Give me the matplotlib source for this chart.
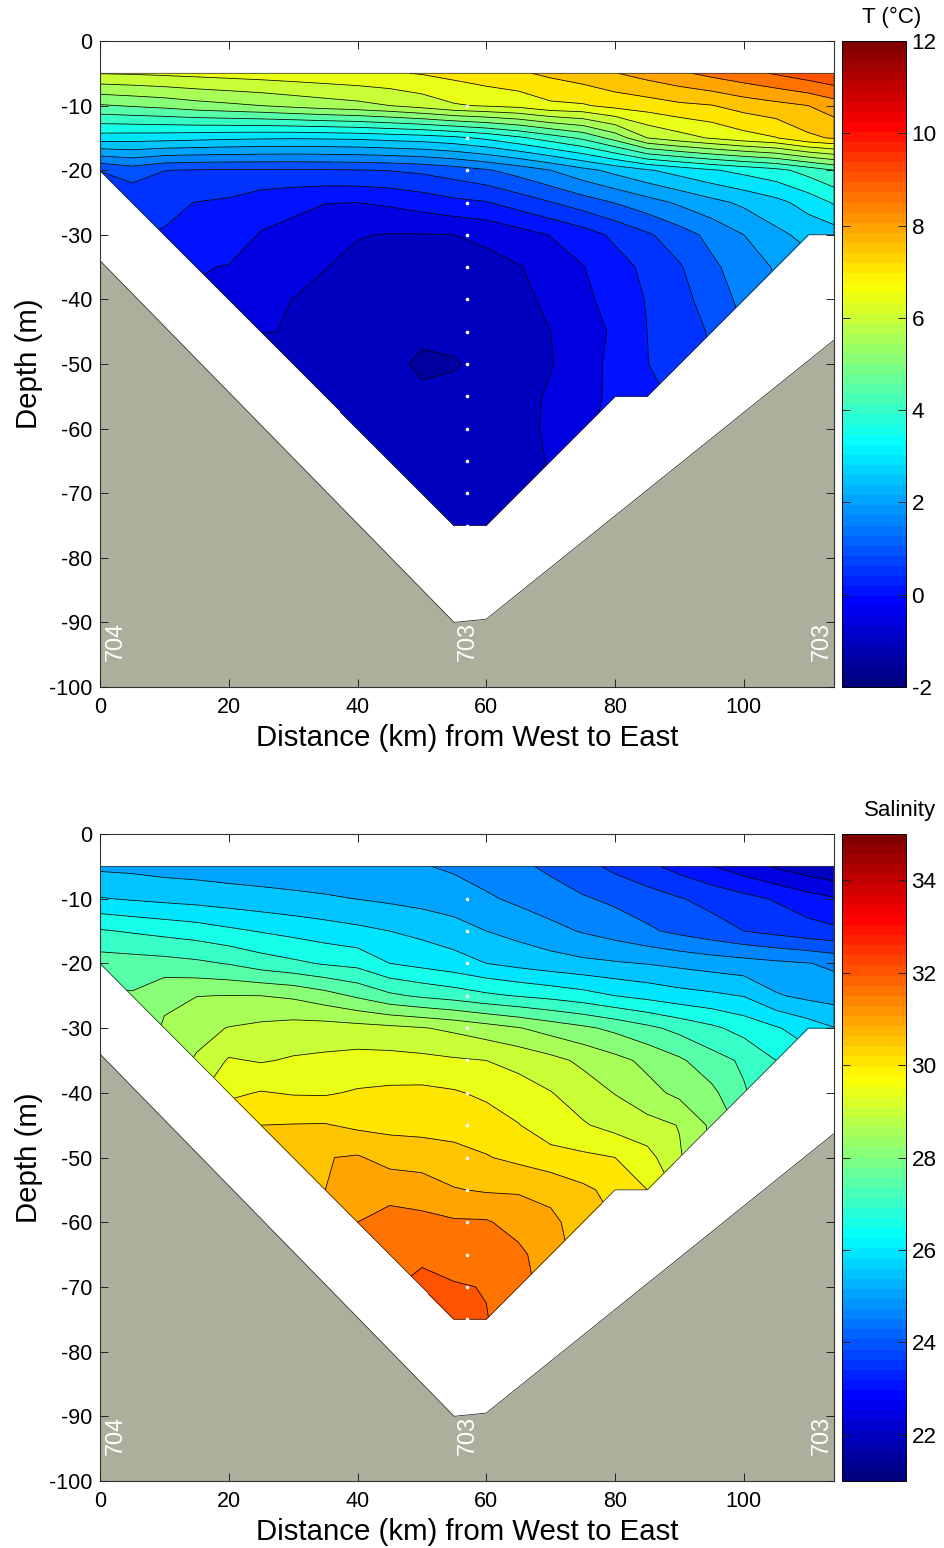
import numpy as np
import matplotlib
matplotlib.use('Agg')
import matplotlib.pyplot as plt
from matplotlib.cm import ScalarMappable
from matplotlib.colors import LinearSegmentedColormap, Normalize

plt.rcParams['font.family'] = ['Liberation Sans', 'DejaVu Sans']
plt.rcParams['axes.unicode_minus'] = False

n = np.nan

# grid of the section
dist = [0, 5, 10, 15, 20, 25, 30, 35, 40, 45, 50, 55, 60, 65, 70, 75, 80, 85, 90, 95, 100, 105, 110, 114]
depth = [-5, -10, -15, -20, -25, -30, -35, -40, -45, -50, -55, -60, -65, -70, -75]

# deepest grid depth in each column
last_depth = [-20, -25, -30, -35, -40, -45, -50, -55, -60, -65, -70, -75, -75,
              -70, -65, -60, -55, -55, -50, -45, -40, -35, -30, -30]

# temperature, one row per depth
T05 = [6.52, 6.55, 6.6, 6.65, 6.7, 6.75, 6.8, 6.85, 6.9, 6.95, 7.03, 7.15, 7.3, 7.43, 7.6, 7.78, 7.98, 8.2, 8.41, 8.64, 8.84, 9.05, 9.28, 9.45]
T10 = [4.95, 5.05, 5.15, 5.3, 5.4, 5.5, 5.63, 5.75, 5.85, 6.0, 6.2, 6.45, 6.55, 6.65, 6.9, 6.95, 7.15, 7.25, 7.4, 7.48, 7.7, 7.85, 8.0, 8.25]
T15 = [3.25, 3.22, 3.2, 3.15, 3.1, 3.07, 3.05, 3.07, 3.1, 3.18, 3.25, 3.38, 3.6, 3.9, 4.25, 4.6, 5.2, 6.0, 6.3, 6.55, 6.8, 6.98, 7.4, 7.55]
T20 = [1.02, 1.25, 1.01, .97, .95, .95, .95, .96, .98, 1.02, 1.1, 1.25, 1.45, 1.7, 2.0, 2.35, 2.65, 2.95, 3.2, 3.45, 3.65, 3.85, 4.2, 4.5]
T25 = [n, .62, .58, .49, .42, .21, .1, .01, 0, .08, .22, .38, .47, .72, .98, 1.25, 1.52, 1.8, 2.08, 2.35, 2.6, 2.85, 3.2, 3.55]
T30 = [n, n, .475, .28, .22, -.03, -.12, -.25, -.48, -.52, -.52, -.5, -.4, -.2, .02, .27, .6, .93, 1.28, 1.64, 2.0, 2.38, 2.65, 2.75]
T35 = [n, n, n, .03, -.02, -.25, -.33, -.49, -.6, -.65, -.68, -.68, -.65, -.53, -.28, -.02, .3, .62, .95, 1.4, 1.75, 2.05, n, n]
T40 = [n, n, n, n, -.1, -.42, -.505, -.6, -.72, -.82, -.85, -.8, -.75, -.62, -.4, -.12, .2, .53, .85, 1.2, 1.65, n, n, n]
T45 = [n, n, n, n, n, -.495, -.505, -.68, -.83, -.9, -.92, -.93, -.85, -.72, -.5, -.2, .07, .5, .78, 1.05, n, n, n, n]
T50 = [n, n, n, n, n, n, -.62, -.75, -.85, -.9, -1.07, -1.02, -.93, -.73, -.53, -.2, .13, .49, .75, n, n, n, n, n]
T55 = [n, n, n, n, n, n, n, -.78, -.85, -.88, -.93, -.93, -.85, -.68, -.43, -.15, .1, .35, n, n, n, n, n, n]
T60 = [n, n, n, n, n, n, n, n, -.82, -.85, -.88, -.88, -.8, -.65, -.42, -.1, n, n, n, n, n, n, n, n]
T65 = [n, n, n, n, n, n, n, n, n, -.82, -.85, -.85, -.78, -.65, -.47, n, n, n, n, n, n, n, n, n]
T70 = [n, n, n, n, n, n, n, n, n, n, -.82, -.82, -.75, -.6, n, n, n, n, n, n, n, n, n, n]
T75 = [n, n, n, n, n, n, n, n, n, n, n, -.8, -.75, n, n, n, n, n, n, n, n, n, n, n]

# salinity
S05 = [25.4, 25.37, 25.3, 25.27, 25.22, 25.2, 25.17, 25.14, 25.1, 25.07, 25.03, 24.93, 24.77, 24.6, 24.4, 24.15, 23.88, 23.62, 23.32, 23.02, 22.72, 22.43, 22.2, 22.05]
S10 = [26.03, 25.95, 25.88, 25.82, 25.75, 25.68, 25.62, 25.56, 25.49, 25.41, 25.33, 25.22, 25.07, 24.9, 24.72, 24.55, 24.4, 24.23, 24.03, 23.85, 23.65, 23.45, 23.2, 23.05]
S15 = [27.05, 26.95, 26.85, 26.75, 26.6, 26.47, 26.35, 26.23, 26.12, 26.0, 25.87, 25.72, 25.5, 25.33, 25.15, 24.96, 24.78, 24.58, 24.38, 24.2, 24.0, 23.85, 23.7, 23.6]
S20 = [27.75, 27.72, 27.68, 27.6, 27.47, 27.25, 27.1, 26.95, 26.85, 26.5, 26.35, 26.2, 26.0, 25.85, 25.72, 25.62, 25.55, 25.48, 25.38, 25.28, 25.2, 25.1, 25.02, 24.9]
S25 = [n, 28.05, 28.42, 28.49, 28.51, 28.5, 28.42, 28.2, 27.92, 27.6, 27.42, 27.28, 27.1, 26.97, 26.85, 26.7, 26.5, 26.35, 26.2, 26.1, 25.98, 25.55, 25.38, 25.3]
S30 = [n, n, 28.55, 28.85, 29.02, 29.12, 29.2, 29.22, 29.18, 29.12, 29.03, 28.9, 28.72, 28.53, 28.3, 28.1, 27.88, 27.62, 27.35, 27.1, 26.82, 26.55, 26.25, 26.02]
S35 = [n, n, n, 29.05, 29.55, 29.46, 29.55, 29.6, 29.67, 29.67, 29.63, 29.56, 29.5, 29.35, 29.15, 28.9, 28.65, 28.38, 28.08, 27.7, 27.42, 27.0, n, n]
S40 = [n, n, n, n, 29.9, 30.03, 29.96, 29.95, 30.05, 30.1, 30.12, 30.05, 29.9, 29.72, 29.52, 29.25, 28.98, 28.66, 28.38, 28.12, 27.55, n, n, n]
S45 = [n, n, n, n, n, 30.5, 30.52, 30.53, 30.4, 30.37, 30.35, 30.3, 30.25, 30.02, 29.7, 29.55, 29.33, 29.17, 28.98, 28.4, n, n, n, n]
S50 = [n, n, n, n, n, n, 30.75, 30.98, 31.05, 30.8, 30.75, 30.68, 30.53, 30.38, 30.2, 30.1, 30.0, 29.68, 29.05, n, n, n, n, n]
S55 = [n, n, n, n, n, n, n, 31.0, 31.4, 31.36, 31.28, 31.03, 30.95, 30.95, 30.85, 30.6, 30.35, 30.0, n, n, n, n, n, n]
S60 = [n, n, n, n, n, n, n, n, 31.5, 31.65, 31.62, 31.56, 31.55, 31.3, 31.12, 30.75, n, n, n, n, n, n, n, n]
S65 = [n, n, n, n, n, n, n, n, n, 31.7, 31.9, 31.8, 31.78, 31.62, 31.2, n, n, n, n, n, n, n, n, n]
S70 = [n, n, n, n, n, n, n, n, n, n, 32.15, 32.04, 31.98, 31.7, n, n, n, n, n, n, n, n, n, n]
S75 = [n, n, n, n, n, n, n, n, n, n, n, 32.3, 32.02, n, n, n, n, n, n, n, n, n, n, n]

temp = [T05, T10, T15, T20, T25, T30, T35, T40, T45, T50, T55, T60, T65, T70, T75]
salt = [S05, S10, S15, S20, S25, S30, S35, S40, S45, S50, S55, S60, S65, S70, S75]

# sea floor
bottom_x = [0, 55, 57, 60, 114]
bottom_y = [-34, -90, -89.8, -89.5, -46.3]

# CTD samples and station names
sample_x = 57
sample_y = [-10, -15, -20, -25, -30, -35, -40, -45, -50, -55, -60, -65, -70, -75]
station_x = [2.3, 57, 112]
station_names = ['704', '703', '703']

W, H = 944, 1548
GROUND = '#adae9b'

# jet as MATLAB has it, the matplotlib one has its yellow too low
jet = LinearSegmentedColormap.from_list('mjet', [
    (0, (0, 0, .5)), (1 / 8, (0, 0, 1)), (3 / 8, (0, 1, 1)),
    (5 / 8, (1, 1, 0)), (7 / 8, (1, 0, 0)), (1, (.5, 0, 0))], N=64)


def axes_px(x0, y0, x1, y1):
    # pixel box, y counted from the top of the image
    return fig.add_axes([x0 / W, 1 - y1 / H, (x1 - x0) / W, (y1 - y0) / H])


def section(top, bottom, values, vmin, vmax, cticks, title, title_x):
    ax = axes_px(100, top, 834, bottom)
    norm = Normalize(vmin, vmax)
    levels = np.arange(vmin, vmax + 0.25, 0.5)
    # each band takes the colour of its lower level
    band_colors = [jet(norm(v)) for v in levels[:-1]]
    z = np.ma.masked_invalid(np.array(values))

    ax.fill_between(bottom_x, bottom_y, -100, color=GROUND, lw=0, zorder=1)
    ax.plot(bottom_x, bottom_y, color='#333333', lw=0.6, zorder=1.2)
    ax.contourf(dist, depth, z, levels=levels, colors=band_colors, corner_mask=True, zorder=1.5)
    ax.contour(dist, depth, z, levels=levels, colors='k', linewidths=0.55,
               linestyles='solid', corner_mask=True, zorder=2)

    # outline of the sampled area
    edge_x = dist + [dist[-1], dist[0], dist[0]]
    edge_y = last_depth + [depth[0], depth[0], last_depth[0]]
    ax.plot(edge_x, edge_y, color='#333333', lw=0.55, zorder=2)

    ax.plot([sample_x] * len(sample_y), sample_y, 'o', color='white', ms=2.6, mew=0, zorder=3)
    for sx, name in zip(station_x, station_names):
        ax.text(sx, -92.9, name, color='white', rotation=90, fontsize=16.8,
                ha='center', va='center', zorder=4)

    ax.set_xlim(0, 114)
    ax.set_ylim(-100, 0)
    ax.set_xticks(range(0, 101, 20))
    ax.set_yticks(range(-100, 1, 10))
    ax.set_axisbelow(False)
    ax.tick_params(direction='in', top=True, right=True, length=5.5, width=0.7,
                   labelsize=15.5, pad=5.5, color='#222222')
    ax.tick_params(axis='x', pad=7)
    for s in ax.spines.values():
        s.set_linewidth(0.8)
        s.set_color('#333333')
    ax.set_xlabel('Distance (km) from West to East', fontsize=21.2, labelpad=4.5)
    ax.set_ylabel('Depth (m)', fontsize=21.2, labelpad=4)

    cax = axes_px(842, top, 906, bottom)
    cb = fig.colorbar(ScalarMappable(norm=norm, cmap=jet), cax=cax)
    cb.set_ticks(cticks)
    cb.minorticks_off()
    cax.tick_params(direction='in', left=True, right=True, length=5.5, width=0.7,
                    labelsize=16.2, pad=4, color='#222222')
    cb.outline.set_linewidth(0.7)
    fig.text(title_x / W, 1 - (top - 24) / H, title, fontsize=16, ha='center', va='center')


fig = plt.figure(figsize=(W / 100, H / 100), dpi=100)
section(41, 687, temp, -2, 12, [-2, 0, 2, 4, 6, 8, 10, 12], 'T (°C)', 891.5)
section(834, 1481, salt, 21, 35, [22, 24, 26, 28, 30, 32, 34], 'Salinity', 900.5)
fig.savefig('out.png', dpi=100)
